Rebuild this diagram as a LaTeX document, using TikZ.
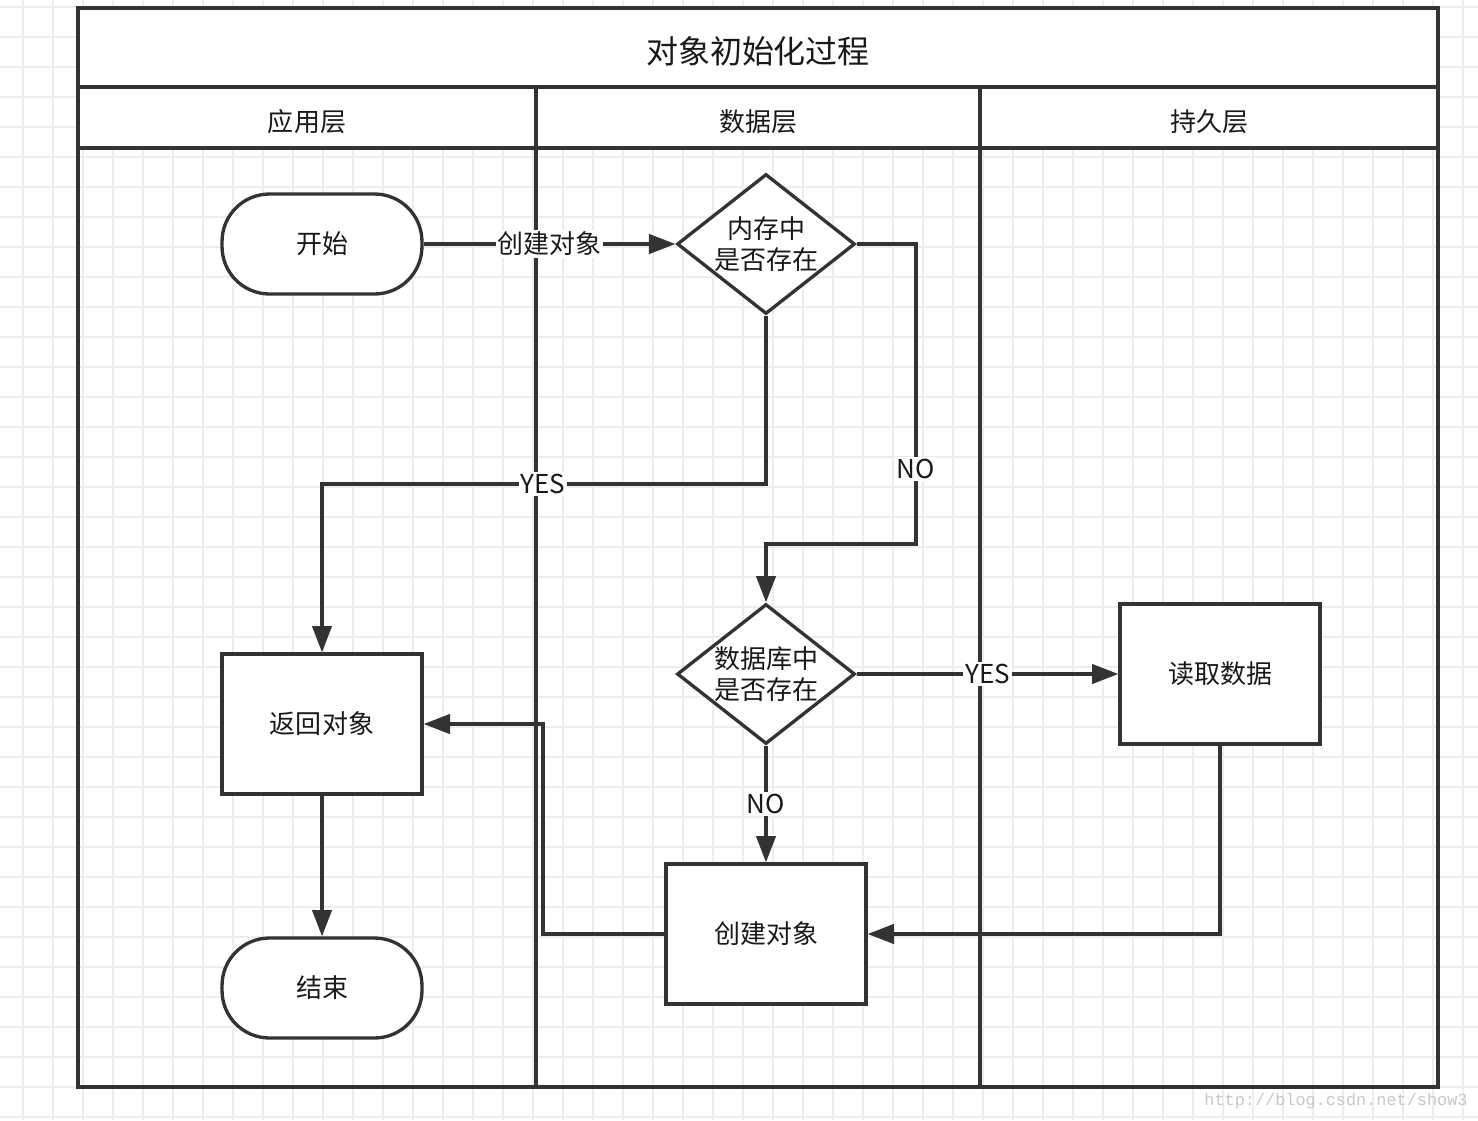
\documentclass[tikz,border=0pt]{standalone}
\usepackage{fontspec}
\setmainfont{Noto Sans CJK SC}
\newfontfamily\urlfont{Liberation Mono}
\usetikzlibrary{arrows.meta,shapes.geometric,positioning}

\definecolor{ink}{HTML}{333333}
\definecolor{gridgray}{HTML}{EDEDED}

\tikzset{
  gridline/.style={draw=gridgray,line width=1pt},
  frame/.style={draw=ink,line width=2.3pt},
  terminal/.style={draw=ink,line width=1.9pt,fill=white,rounded corners=0.95cm,
    minimum width=4cm,minimum height=2cm,font=\fontsize{14.8}{17.6}\selectfont,text=black!90},
  process/.style={draw=ink,line width=1.9pt,fill=white,
    minimum width=4cm,minimum height=2.8cm,font=\fontsize{14.8}{17.6}\selectfont,text=black!90},
  decision/.style={draw=ink,line width=1.9pt,fill=white,diamond,aspect=1.27,inner sep=0pt,
    minimum width=3.56cm,minimum height=2.8cm,align=center,font=\fontsize{14.8}{17.6}\selectfont,text=black!90},
  lane/.style={font=\fontsize{14.8}{17.6}\selectfont,text=black!90},
  flow/.style={draw=ink,line width=1.9pt,-{Triangle[length=15pt,width=11pt]}},
  lbl/.style={fill=white,inner sep=1pt,font=\fontsize{14.8}{17.6}\selectfont,text=black!90},
}

\begin{document}
\begin{tikzpicture}[x=0.02cm,y=-0.02cm]
  \useasboundingbox (0,0) rectangle (1478,1120);
  % background grid
  \foreach \gx in {23,53,...,1463} \draw[gridline] (\gx,0) -- (\gx,1120);
  \foreach \gy in {7,37,...,1117} \draw[gridline] (0,\gy) -- (1478,\gy);

  % pool and lanes
  \fill[white] (78,8) rectangle (1438,148);
  \draw[frame] (78,8) rectangle (1438,1087);
  \draw[frame] (78,87) -- (1438,87);
  \draw[frame] (78,148) -- (1438,148);
  \draw[frame] (536,87) -- (536,1087);
  \draw[frame] (980,87) -- (980,1087);
  \node[font=\fontsize{18.2}{21}\selectfont,text=black!90] (title) at (758,51) {对象初始化过程};
  \node[lane] (app lane)     at (307,122)  {应用层};
  \node[lane] (data lane)    at (758,122)  {数据层};
  \node[lane] (persist lane) at (1209,122) {持久层};

  % shapes
  \node[terminal] (start)       at (322,244) {开始};
  \node[decision] (in memory)   at (766,244) {内存中\\是否存在};
  \node[process]  (return obj)  at (322,724) {返回对象};
  \node[decision] (in database) at (766,674) {数据库中\\是否存在};
  \node[process]  (read data)   at (1220,674) {读取数据};
  \node[process]  (create obj)  at (766,934) {创建对象};
  \node[terminal] (end)         at (322,988) {结束};

  \coordinate (no bend)   at (916,544);
  \coordinate (back bend) at (543,934);

  % connectors
  \draw[flow] (start) -- node[lbl] {创建对象} (in memory);
  \draw[flow] (in memory.south) |- node[lbl,pos=0.751] {YES} (return obj.north |- 0,484) -- (return obj.north);
  \draw[flow] (in memory.east) -| node[lbl,pos=0.875] {NO} (no bend) -| (in database.north);
  \draw[flow] (in database) -- node[lbl] {YES} (read data);
  \draw[flow] (in database) -- node[lbl] {NO} (create obj);
  \draw[flow] (read data.south) |- (create obj.east);
  \draw[flow] (create obj.west) -- (back bend) |- (return obj.east);
  \draw[flow] (return obj) -- (end);

  \node[font=\urlfont\fontsize{9.6}{11}\selectfont,text=black!22] (watermark) at (1336,1101) {http://blog.csdn.net/show3};
\end{tikzpicture}
\end{document}
